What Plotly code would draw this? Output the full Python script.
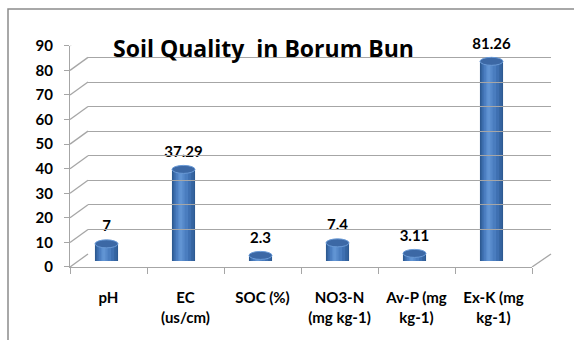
import plotly.graph_objects as go

categories = ["pH", "EC (us/cm)", "SOC (%)", "NO3-N (mg kg-1)", "Av-P (mg kg-1)", "Ex-K (mg kg-1)"]
tick_labels = ["pH", "EC<br>(us/cm)", "SOC (%)", "NO3-N<br>(mg kg-1)", "Av-P (mg<br>kg-1)", "Ex-K (mg<br>kg-1)"]
values = [7, 37.29, 2.3, 7.4, 3.11, 81.26]
value_labels = ["7", "37.29", "2.3", "7.4", "3.11", "81.26"]
y_ticks = [0, 10, 20, 30, 40, 50, 60, 70, 80, 90]
title_text = "Soil Quality\u00a0 in Borum Bun"

W, H = 574, 340
L, R, T, B = 66, 23, 20, 73
PW = W - L - R   # 485
PH = H - T - B   # 247

def px_dom(a, b, total):
    return [a / total, b / total]

FONT = "Lato, 'Open Sans', sans-serif"
GRID = "#a6a6a6"

fig = go.Figure()

# back wall (gridlines only)
fig.add_trace(go.Scatter(x=[None], y=[None], xaxis="x3", yaxis="y3",
                         showlegend=False, hoverinfo="skip"))

# cylinder-like bars (layered to fake shading)
layers = [
    (0.30, "#2d5a92", 0.0),
    (0.27, "#3564a0", 0.0),
    (0.22, "#3f70b1", -0.01),
    (0.16, "#4a7dbf", -0.02),
    (0.09, "#5689ca", -0.03),
    (0.04, "#6194d3", -0.035),
]
for w, c, sh in layers:
    fig.add_trace(go.Bar(
        x=list(range(len(categories))), y=values, width=w,
        offset=-w / 2 + sh,
        marker=dict(color=c, line=dict(width=0)),
        xaxis="x2", yaxis="y2", showlegend=False, hoverinfo="skip"))

# data labels
fig.add_trace(go.Scatter(
    x=list(range(len(categories))), y=values, text=value_labels, mode="text",
    textposition="top center", cliponaxis=False,
    textfont=dict(family=FONT, size=15, color="black", weight="bold"),
    xaxis="x2", yaxis="y4", showlegend=False, hoverinfo="skip"))

# front axes (labels) - dummy trace
fig.add_trace(go.Scatter(x=categories, y=[None] * len(categories), xaxis="x", yaxis="y",
                         showlegend=False, hoverinfo="skip"))

shapes = []
# diagonals from front axis to back wall
for v in y_ticks:
    shapes.append(dict(type="line", xref="paper", xsizemode="pixel", xanchor=4 / PW,
                       x0=0, x1=18, yref="y", ysizemode="pixel", yanchor=v, y0=0, y1=13,
                       line=dict(color=GRID, width=1.3), layer="below"))
# right floor diagonal
shapes.append(dict(type="line", xref="paper", xsizemode="pixel", xanchor=466 / PW,
                   x0=0, x1=19, yref="y", ysizemode="pixel", yanchor=0, y0=0, y1=13,
                   line=dict(color=GRID, width=1.3), layer="below"))
# cylinder caps
for i, v in enumerate(values):
    shapes.append(dict(type="circle", xref="x2", yref="y2", xsizemode="pixel", ysizemode="pixel",
                       xanchor=i, yanchor=0, x0=-11.5, x1=11.5, y0=-4, y1=4,
                       fillcolor="#2f5c94", line=dict(width=0), layer="below"))
    shapes.append(dict(type="circle", xref="x2", yref="y2", xsizemode="pixel", ysizemode="pixel",
                       xanchor=i, yanchor=v, x0=-11.5, x1=11.5, y0=-4, y1=4,
                       fillcolor="#3c68a5", line=dict(color="#6a9ad6", width=1), layer="above"))
# outer chart border
shapes.append(dict(type="rect", xref="paper", yref="paper",
                   x0=(8 - L) / PW, x1=1.3, y0=-0.6, y1=(PH + T - 7) / PH,
                   line=dict(color="#8c8c8c", width=1.5), layer="below"))

annotations = [dict(x=(263.5 - L) / PW, y=(PH + T - 46) / PH, xref="paper", yref="paper",
                    text=title_text, showarrow=False, xanchor="center", yanchor="middle",
                    font=dict(family="'Open Sans', sans-serif", size=23, color="black",
                              weight="bold"))]

tickfont = dict(family=FONT, size=15, color="black", weight="bold")

fig.update_layout(
    width=W, height=H,
    margin=dict(l=L, r=R, t=T, b=B),
    paper_bgcolor="white", plot_bgcolor="rgba(0,0,0,0)",
    barmode="overlay",
    xaxis=dict(domain=px_dom(4, 466, PW), anchor="y", type="category",
               categoryorder="array", categoryarray=categories,
               range=[-0.5, 5.5], tickvals=categories, ticktext=tick_labels,
               tickson="boundaries", ticks="outside", ticklen=6, tickcolor=GRID,
               showline=True, linecolor=GRID, linewidth=1.3, showgrid=False,
               tickfont=tickfont, ticklabelstandoff=17),
    yaxis=dict(domain=px_dom(0, 223, PH), anchor="x", range=[0, 90], tickvals=y_ticks,
               ticks="outside", ticklen=5, tickcolor=GRID, showline=True, linecolor=GRID,
               linewidth=1.3, showgrid=False, zeroline=False, tickfont=tickfont,
               ticklabelstandoff=8),
    xaxis2=dict(domain=px_dom(2, 464, PW), anchor="y2", range=[-0.5, 5.5],
                visible=False),
    yaxis2=dict(domain=px_dom(6, 229, PH), anchor="x2", range=[0, 90], visible=False),
    yaxis4=dict(domain=px_dom(15, 238, PH), anchor="x2", range=[0, 90],
                visible=False),
    xaxis3=dict(domain=px_dom(22, PW, PW), anchor="y3", range=[0, 1], visible=False),
    yaxis3=dict(domain=px_dom(13, 236, PH), anchor="x3", range=[0, 90], tickvals=y_ticks,
                showgrid=True, gridcolor=GRID, gridwidth=1.3, showticklabels=False,
                ticks="", zeroline=False, showline=False),
    shapes=shapes,
    annotations=annotations,
)

fig.write_html("out.html", config={"displayModeBar": False},
               post_script="document.body.style.margin='0';document.body.style.padding='0';")
